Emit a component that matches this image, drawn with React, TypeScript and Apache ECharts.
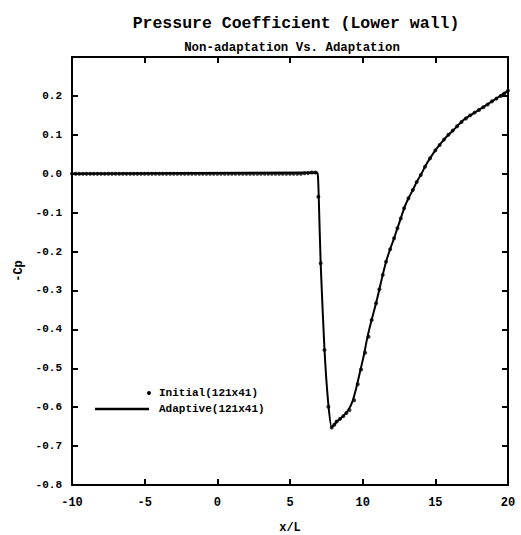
import React, { useEffect, useRef } from "react";
import * as echarts from "echarts";

const titleText = "Pressure Coefficient (Lower wall)";
const subtitleText = "Non-adaptation Vs. Adaptation";
const xName = "x/L";
const yName = "-Cp";
const legendNames = ["Initial(121x41)", "Adaptive(121x41)"];

// Initial (121x41) grid – dots
const initialX = [
  -10, -9.75, -9.5, -9.25, -9, -8.75, -8.5, -8.25, -8, -7.75, -7.5, -7.25, -7, -6.75, -6.5, -6.25,
  -6, -5.75, -5.5, -5.25, -5, -4.75, -4.5, -4.25, -4, -3.75, -3.5, -3.25, -3, -2.75, -2.5, -2.25,
  -2, -1.75, -1.5, -1.25, -1, -0.75, -0.5, -0.25, 0, 0.25, 0.5, 0.75, 1, 1.25, 1.5, 1.75,
  2, 2.25, 2.5, 2.75, 3, 3.25, 3.5, 3.75, 4, 4.25, 4.5, 4.75, 5, 5.25, 5.5, 5.75,
  6, 6.25, 6.5, 6.75,
  6.95, 7.11, 7.37, 7.64, 7.87, 8.05, 8.21, 8.45, 8.67, 8.88, 9.09, 9.41, 9.66, 9.89, 10.17,
  10.4, 10.62, 10.92, 11.15, 11.38, 11.61, 11.89, 12.16, 12.39, 12.62, 12.85, 13.15, 13.45,
  13.72, 14.0, 14.29, 14.64, 15.0, 15.3, 15.6, 15.9, 16.2, 16.5, 16.8, 17.1, 17.4, 17.7,
  18.0, 18.3, 18.6, 18.9, 19.2, 19.5, 19.75, 20,
];
const initialCp = [
  0, 0, 0, 0, 0, 0, 0, 0, 0, 0, 0, 0, 0, 0, 0, 0,
  0, 0, 0, 0, 0, 0, 0, 0, 0, 0, 0, 0, 0, 0, 0, 0,
  0, 0, 0, 0, 0, 0, 0, 0, 0, 0, 0, 0, 0, 0, 0, 0,
  0, 0, 0, 0, 0, 0, 0, 0, 0, 0, 0, 0, 0, 0, 0, 0,
  0.001, 0.002, 0.003, 0.003,
  -0.059, -0.23, -0.453, -0.599, -0.652, -0.645, -0.637, -0.63, -0.623, -0.615, -0.607, -0.582,
  -0.541, -0.503, -0.46, -0.419, -0.376, -0.333, -0.297, -0.26, -0.226, -0.194, -0.166, -0.14,
  -0.115, -0.089, -0.063, -0.042, -0.021, -0.003, 0.018, 0.04, 0.06, 0.074, 0.088, 0.1, 0.111,
  0.122, 0.133, 0.142, 0.15, 0.157, 0.164, 0.171, 0.178, 0.186, 0.193, 0.2, 0.206, 0.213,
];

// Adaptive (121x41) – solid line
const adaptiveX = [
  -10, 6.85, 6.92, 6.97, 7.11, 7.37, 7.62, 7.87, 8.2, 8.6, 9.0, 9.3, 9.55, 9.8, 10.05, 10.3,
  10.6, 10.92, 11.15, 11.38, 11.61, 11.89, 12.16, 12.39, 12.62, 12.85, 13.15, 13.45, 13.72,
  14.0, 14.29, 14.64, 15.1, 15.67, 16.24, 16.93, 17.62, 18.53, 19.22, 20,
];
const adaptiveCp = [
  0, 0.003, -0.005, -0.05, -0.23, -0.45, -0.585, -0.652, -0.638, -0.625, -0.608, -0.585, -0.552,
  -0.512, -0.472, -0.425, -0.378, -0.333, -0.297, -0.26, -0.226, -0.194, -0.166, -0.14, -0.115,
  -0.089, -0.063, -0.042, -0.021, -0.003, 0.018, 0.04, 0.065, 0.091, 0.112, 0.138, 0.155,
  0.177, 0.194, 0.213,
];

const xMin = -10;
const xMax = 20;
const xStep = 5;
const yMin = -0.8;
const yMax = 0.3;
const yStep = 0.1;

const FONT = "Liberation Mono";

const mkLine = () => ({ show: true, onZero: false, lineStyle: { color: "#000", width: 2 } });
const mkTick = () => ({ show: true, inside: true, length: 6, lineStyle: { color: "#000", width: 2 } });
const mkLabel = (size: number) => ({
  color: "#000",
  fontFamily: FONT,
  fontWeight: "bold",
  fontSize: size,
});

export default function App() {
  const ref = useRef<HTMLDivElement>(null);

  useEffect(() => {
    if (!ref.current) return;
    const chart = echarts.init(ref.current, null, { renderer: "svg" });

    chart.setOption({
      animation: false,
      title: [
        {
          text: titleText,
          left: 291,
          top: 10,
          textAlign: "center",
          textStyle: { fontFamily: FONT, fontWeight: "bold", fontSize: 16.5, color: "#000" },
        },
        {
          text: subtitleText,
          left: 287,
          top: 37,
          textAlign: "center",
          textStyle: { fontFamily: FONT, fontWeight: "bold", fontSize: 12.4, color: "#000" },
        },
      ],
      grid: {
        left: 72,
        right: 13,
        top: 57,
        bottom: 50,
        containLabel: false,
        outerBoundsMode: "none",
      },
      xAxis: [
        {
          type: "value",
          min: xMin,
          max: xMax,
          interval: xStep,
          position: "bottom",
          name: xName,
          nameLocation: "middle",
          nameGap: 37,
          nameTextStyle: mkLabel(12),
          axisLine: mkLine(),
          axisTick: mkTick(),
          splitLine: { show: false },
          axisLabel: { ...mkLabel(12), margin: 12 },
        },
        {
          type: "value",
          min: xMin,
          max: xMax,
          interval: xStep,
          position: "top",
          axisLine: mkLine(),
          axisTick: mkTick(),
          splitLine: { show: false },
          axisLabel: { show: false },
        },
      ],
      yAxis: [
        {
          type: "value",
          min: yMin,
          max: yMax,
          interval: yStep,
          position: "left",
          name: yName,
          nameLocation: "middle",
          nameGap: 44,
          nameRotate: 90,
          nameTextStyle: mkLabel(12),
          axisLine: mkLine(),
          axisTick: mkTick(),
          splitLine: { show: false },
          axisLabel: {
            ...mkLabel(11),
            margin: 10,
            showMaxLabel: false,
            formatter: (v: number) => (Math.abs(v) < 1e-9 ? "0.0" : v.toFixed(1)),
          },
        },
        {
          type: "value",
          min: yMin,
          max: yMax,
          interval: yStep,
          position: "right",
          axisLine: mkLine(),
          axisTick: mkTick(),
          splitLine: { show: false },
          axisLabel: { show: false },
        },
      ],
      series: [
        {
          name: legendNames[0],
          type: "scatter",
          xAxisIndex: 0,
          yAxisIndex: 0,
          symbol: "circle",
          symbolSize: 4,
          itemStyle: { color: "#000" },
          data: initialX.map((x, i) => [x, initialCp[i]]),
          z: 3,
        },
        {
          name: legendNames[1],
          type: "line",
          xAxisIndex: 0,
          yAxisIndex: 0,
          symbol: "none",
          smooth: 0.2,
          lineStyle: { color: "#000", width: 2 },
          data: adaptiveX.map((x, i) => [x, adaptiveCp[i]]),
          z: 2,
        },
      ],
      graphic: [
        { type: "circle", shape: { cx: 149, cy: 393, r: 2 }, style: { fill: "#000" } },
        {
          type: "line",
          shape: { x1: 95, y1: 409, x2: 149, y2: 409 },
          style: { stroke: "#000", lineWidth: 2.5 },
        },
        {
          type: "text",
          x: 159,
          y: 393,
          style: { text: legendNames[0], fill: "#000", font: `bold 11px "${FONT}"`, verticalAlign: "middle" },
        },
        {
          type: "text",
          x: 159,
          y: 409,
          style: { text: legendNames[1], fill: "#000", font: `bold 11px "${FONT}"`, verticalAlign: "middle" },
        },
      ],
    });
    return () => chart.dispose();
  }, []);

  return (
    <div
      ref={ref}
      style={{ position: "fixed", left: 0, top: 0, width: 521, height: 535, background: "#fff" }}
    />
  );
}
